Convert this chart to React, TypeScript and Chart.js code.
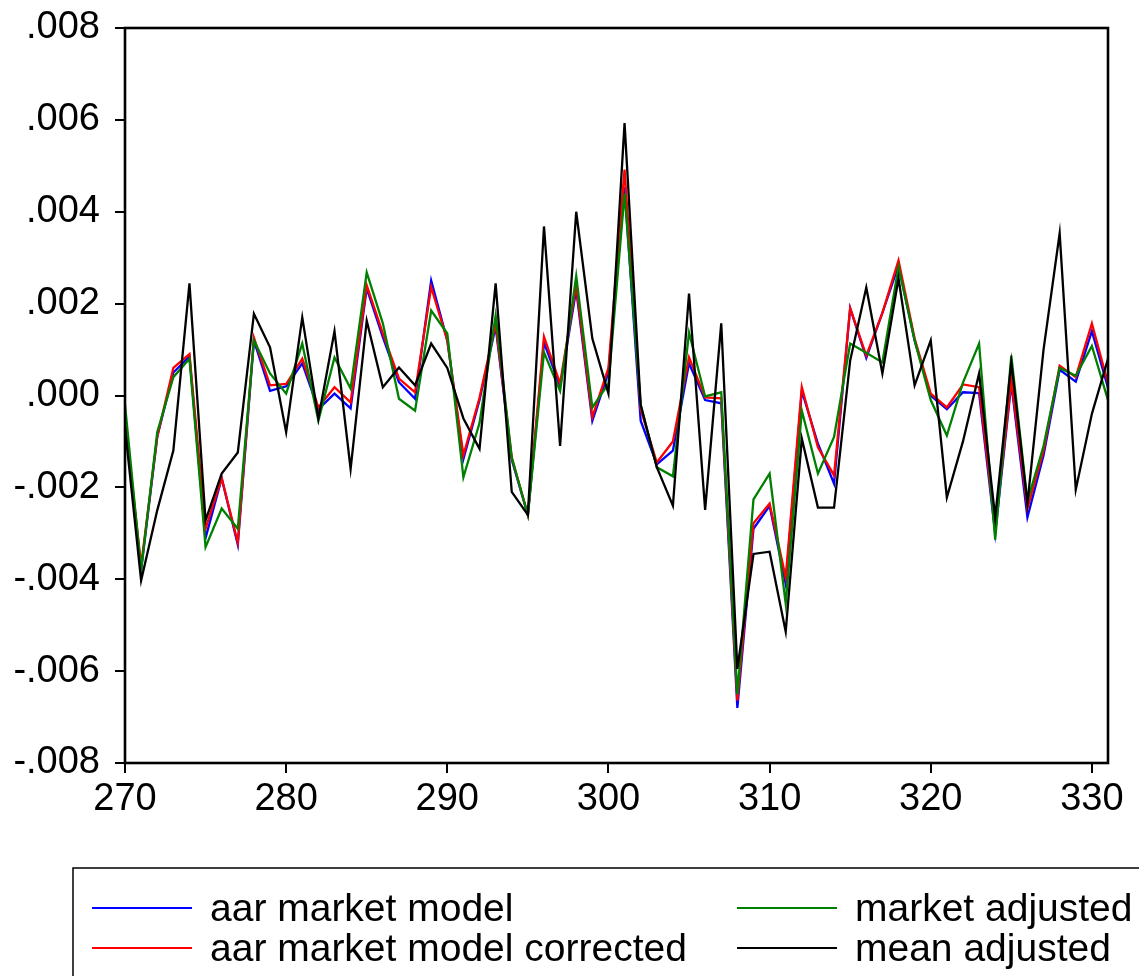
import React, { useEffect, useRef } from "react";
import { Chart, registerables } from "chart.js";

Chart.register(...registerables);

const periods = [
  270, 271, 272, 273, 274, 275, 276, 277, 278, 279,
  280, 281, 282, 283, 284, 285, 286, 287, 288, 289,
  290, 291, 292, 293, 294, 295, 296, 297, 298, 299,
  300, 301, 302, 303, 304, 305, 306, 307, 308, 309,
  310, 311, 312, 313, 314, 315, 316, 317, 318, 319,
  320, 321, 322, 323, 324, 325, 326, 327, 328, 329,
  330, 331,
];

const aarMarketModel = [
  -0.0005, -0.0038, -0.0009, 0.0005, 0.00085, -0.0031, -0.0018, -0.00325, 0.0012, 0.0001,
  0.0002, 0.0007, -0.0003, 0.00004, -0.00028, 0.00233, 0.00127, 0.00029, -0.00007, 0.0025,
  0.0012, -0.00138, -0.0001, 0.0015, -0.0014, -0.0026, 0.00115, 0.0002, 0.0023, -0.00055,
  0.0005, 0.00453, -0.00055, -0.0015, -0.0012, 0.0007, -0.0001, -0.00017, -0.0068, -0.0029,
  -0.0024, -0.0041, 0.0001, -0.00105, -0.00192, 0.0019, 0.00082, 0.0018, 0.00283, 0.0012,
  0.0, -0.0003, 0.00007, 0.00005, -0.003, 0.00026, -0.00265, -0.0013, 0.00056, 0.0003,
  0.0014, 0.00017,
];

const aarMarketModelCorrected = [
  -0.0005, -0.0037, -0.0009, 0.0006, 0.0009, -0.0029, -0.0018, -0.0032, 0.00126, 0.00022,
  0.00025, 0.0008, -0.00026, 0.00018, -0.00015, 0.0024, 0.00135, 0.00037, 0.00007, 0.00236,
  0.0012, -0.0013, -0.00005, 0.00156, -0.00135, -0.0026, 0.00128, 0.00026, 0.0024, -0.00047,
  0.0006, 0.00492, -0.0003, -0.00146, -0.001, 0.00083, -0.00004, -0.00006, -0.00664, -0.00278,
  -0.00235, -0.00396, 0.00018, -0.00113, -0.00174, 0.0019, 0.00087, 0.0018, 0.00294, 0.00124,
  0.00004, -0.00026, 0.00024, 0.00018, -0.0029, 0.00033, -0.00246, -0.0012, 0.00065, 0.0004,
  0.00157, 0.00026,
];

const marketAdjusted = [
  -0.0002, -0.0038, -0.0008, 0.0004, 0.0008, -0.0033, -0.00246, -0.0029, 0.0012, 0.00048,
  0.00004, 0.00113, -0.00055, 0.00083, 0.00015, 0.00268, 0.00157, -0.00007, -0.00033, 0.00185,
  0.00135, -0.00178, -0.0006, 0.00174, -0.00135, -0.0026, 0.00094, 0.0001, 0.0026, -0.00026,
  0.00026, 0.0044, -0.0002, -0.00156, -0.00176, 0.00137, -0.00002, 0.00007, -0.0065, -0.00226,
  -0.0017, -0.00453, -0.00033, -0.0017, -0.0009, 0.00113, 0.00093, 0.00072, 0.0028, 0.0012,
  -0.0001, -0.00087, 0.00028, 0.00113, -0.00314, 0.00087, -0.0023, -0.0011, 0.0006, 0.00043,
  0.00108, -0.0001,
];

const meanAdjusted = [
  -0.0007, -0.00403, -0.0025, -0.0012, 0.00244, -0.00272, -0.0017, -0.00124, 0.00178, 0.00105,
  -0.0008, 0.0017, -0.0005, 0.0014, -0.0016, 0.00163, 0.00018, 0.00061, 0.00022, 0.00113,
  0.0006, -0.0005, -0.00116, 0.00244, -0.0021, -0.0026, 0.00368, -0.0011, 0.004, 0.00124,
  0.00004, 0.00593, -0.0002, -0.00156, -0.0024, 0.00222, -0.00249, 0.00157, -0.00595, -0.00345,
  -0.0034, -0.00514, -0.00094, -0.00244, -0.00244, 0.00076, 0.00235, 0.00048, 0.00255, 0.00022,
  0.0012, -0.00222, -0.001, 0.00048, -0.00265, 0.00072, -0.00235, 0.001, 0.00353, -0.00205,
  -0.0004, 0.0008,
];

const seriesLabels = [
  "aar market model",
  "aar market model corrected",
  "market adjusted",
  "mean adjusted",
];
const seriesColors = ["#0000ff", "#ff0000", "#008000", "#000000"];

const yTickValues = [-0.008, -0.006, -0.004, -0.002, 0, 0.002, 0.004, 0.006, 0.008];
const xTickValues = [270, 280, 290, 300, 310, 320, 330];

const FONT = "'Liberation Sans', Arial, sans-serif";

function fmtY(v: number): string {
  const r = Math.round(v * 1000) / 1000;
  const s = Math.abs(r).toFixed(3).replace(/^0/, "");
  return (r < 0 ? "-" : "") + s;
}

const framePlugin = {
  id: "frame",
  afterDatasetsDraw(chart: any) {
    const { ctx, chartArea } = chart;
    ctx.save();
    ctx.strokeStyle = "#000";
    ctx.lineWidth = 2.6;
    ctx.strokeRect(chartArea.left, chartArea.top, chartArea.right - chartArea.left, chartArea.bottom - chartArea.top);
    ctx.restore();
  },
};

const legendPlugin = {
  id: "boxLegend",
  afterDraw(chart: any) {
    const { ctx } = chart;
    ctx.save();
    ctx.strokeStyle = "#000";
    ctx.lineWidth = 1.5;
    ctx.strokeRect(73, 868, 1200, 200);
    const cols = [92, 737];
    const rows = [908, 948];
    const order = [0, 1, 2, 3];
    ctx.font = "39px " + FONT;
    ctx.textBaseline = "middle";
    ctx.textAlign = "left";
    order.forEach((di, k) => {
      const col = Math.floor(k / 2);
      const row = k % 2;
      const ds = chart.data.datasets[di];
      const x = cols[col];
      const y = rows[row];
      ctx.strokeStyle = ds.borderColor;
      ctx.lineWidth = 2;
      ctx.beginPath();
      ctx.moveTo(x, y);
      ctx.lineTo(x + 100, y);
      ctx.stroke();
      ctx.fillStyle = "#000";
      ctx.fillText(ds.label, x + 118, y + 2);
    });
    ctx.restore();
  },
};

export default function App() {
  const canvasRef = useRef<HTMLCanvasElement | null>(null);

  useEffect(() => {
    if (!canvasRef.current) return;
    const seriesData = [aarMarketModel, aarMarketModelCorrected, marketAdjusted, meanAdjusted];
    const chart = new Chart(canvasRef.current, {
      type: "line",
      data: {
        datasets: seriesData.map((vals, i) => ({
          label: seriesLabels[i],
          data: periods.map((p, j) => ({ x: p, y: vals[j] })),
          borderColor: seriesColors[i],
          backgroundColor: seriesColors[i],
          borderWidth: 2.3,
          pointRadius: 0,
          tension: 0,
          fill: false,
          order: 4 - i,
        })),
      },
      options: {
        responsive: false,
        devicePixelRatio: 1,
        animation: false,
        layout: { padding: { left: 0, top: 28, right: 31, bottom: 153 } },
        plugins: { legend: { display: false }, tooltip: { enabled: false } },
        scales: {
          x: {
            type: "linear",
            min: 270,
            max: 331,
            afterFit: (scale: any) => {
              scale.height = 60;
              scale.paddingLeft = 0;
              scale.paddingRight = 0;
            },
            afterBuildTicks: (scale: any) => {
              scale.ticks = xTickValues.map((v) => ({ value: v }));
            },
            ticks: {
              color: "#000",
              font: { family: FONT, size: 38 },
              padding: 4,
              maxRotation: 0,
              autoSkip: false,
              callback: (v: any) => String(v),
            },
            grid: {
              drawOnChartArea: false,
              drawTicks: true,
              tickLength: 10,
              color: "#000",
              lineWidth: 2,
            },
            border: { display: false },
          },
          y: {
            type: "linear",
            min: -0.008,
            max: 0.008,
            afterFit: (scale: any) => {
              scale.width = 125;
              scale.paddingTop = 0;
              scale.paddingBottom = 0;
            },
            afterBuildTicks: (scale: any) => {
              scale.ticks = yTickValues.map((v) => ({ value: v }));
            },
            ticks: {
              color: "#000",
              font: { family: FONT, size: 38 },
              padding: 15,
              autoSkip: false,
              callback: (v: any) => fmtY(Number(v)),
            },
            grid: {
              drawOnChartArea: false,
              drawTicks: true,
              tickLength: 10,
              color: "#000",
              lineWidth: 2,
            },
            border: { display: false },
          },
        },
      },
      plugins: [framePlugin, legendPlugin],
    });
    return () => chart.destroy();
  }, []);

  return (
    <div style={{ position: "absolute", left: 0, top: 0, width: 1139, height: 976, background: "#fff" }}>
      <canvas ref={canvasRef} width={1139} height={976} style={{ display: "block" }} />
    </div>
  );
}
